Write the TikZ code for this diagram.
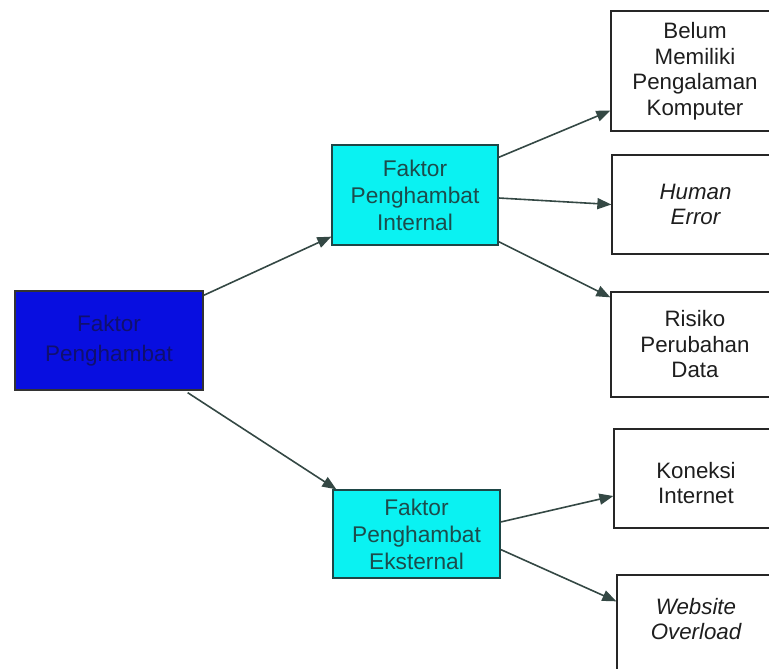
\documentclass[tikz,border=0pt]{standalone}
\usepackage{fontspec}
\setmainfont{Liberation Sans}
\usetikzlibrary{arrows.meta}
\definecolor{rootblue}{RGB}{8,14,224}
\definecolor{roottext}{RGB}{16,16,110}
\definecolor{midcyan}{RGB}{10,242,242}
\definecolor{midedge}{RGB}{30,70,70}
\definecolor{midtext}{RGB}{28,76,76}
\definecolor{linkcol}{RGB}{52,72,68}
\definecolor{leaftext}{RGB}{30,30,30}
\tikzset{
  box/.style={rectangle, inner sep=0pt, align=center, line width=1.3pt,
    font=\fontsize{22.3}{25.5}\selectfont},
  rootbox/.style={box, fill=rootblue, draw=black!80, text=roottext,
    font=\fontsize{22.5}{30}\selectfont},
  midbox/.style={box, fill=midcyan, draw=midedge, text=midtext,
    font=\fontsize{22.7}{27}\selectfont},
  leafbox/.style={box, fill=white, draw=black!85, text=leaftext},
  leaftxt/.style={inner sep=0pt, align=center, text=leaftext,
    font=\fontsize{22.3}{25.5}\selectfont},
  link/.style={draw=linkcol, line width=1.6pt,
    -{Triangle[length=14pt,width=11pt]}}
}
\begin{document}
\begin{tikzpicture}[x=1pt,y=-1pt]
\useasboundingbox (0,0) rectangle (769,669);
\begin{scope}
\clip (0,0) rectangle (769,669);
% root
\node[rootbox, minimum width=188pt, minimum height=99pt] (root) at (109,340.5)
  {Faktor\\Penghambat};
% second level
\node[midbox, minimum width=166pt, minimum height=100pt] (int) at (415,195)
  {Faktor\\Penghambat\\Internal};
\node[midbox, minimum width=167pt, minimum height=88pt] (ext) at (416.5,534)
  {Faktor\\Penghambat\\Eksternal};
% leaves, running past the right margin
\node[leafbox, minimum width=168pt, minimum height=120pt] (bel) at (695,71)
  {Belum\\Memiliki\\Pengalaman\\Komputer};
\node[leafbox, minimum width=167pt, minimum height=99pt] (hum) at (695.5,204.5)
  {\itshape Human\\\itshape Error};
\node[leafbox, minimum width=168pt, minimum height=105pt] (risk) at (695,344.5)
  {Risiko\\Perubahan\\Data};
\node[leafbox, minimum width=165pt, minimum height=99pt] (kon) at (696.5,478.5) {};
\node[leaftxt] (kontext) at (696,483) {Koneksi\\Internet};
\node[leafbox, minimum width=162pt, minimum height=125pt] (web) at (698,637.5) {};
\node[leaftxt] (webtext) at (696,619) {\itshape Website\\\itshape Overload};
\end{scope}
% connectors
\draw[link] ([yshift=-5pt]root.north east) -- ([yshift=9pt]int.south west);
\draw[link] ([xshift=-16pt,yshift=-2pt]root.south east) -- ([xshift=4pt]ext.north west);
\draw[link] ([yshift=-13pt]int.north east) -- ([yshift=21pt]bel.south west);
\draw[link] ([yshift=-3pt]int.east) -- (hum.west);
\draw[link] ([yshift=4pt]int.south east) -- ([yshift=-6pt]risk.north west);
\draw[link] ([yshift=12pt]ext.east) -- ([yshift=-17.5pt]kon.west);
\draw[link] ([yshift=-15.5pt]ext.east) -- ([yshift=-27pt]web.north west);
\end{tikzpicture}
\end{document}
